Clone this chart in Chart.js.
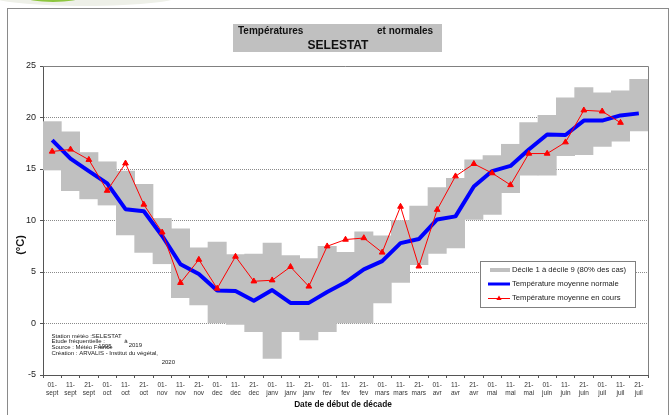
<!DOCTYPE html>
<html><head><meta charset="utf-8">
<script src="https://cdn.jsdelivr.net/npm/chart.js@4"></script>
<style>html,body{margin:0;padding:0;background:#fff}canvas{display:block}</style>
</head><body>
<canvas id="c" width="671" height="415"></canvas>
<script>
const categories = [["01-","sept"],["11-","sept"],["21-","sept"],["01-","oct"],["11-","oct"],["21-","oct"],["01-","nov"],["11-","nov"],["21-","nov"],["01-","dec"],["11-","dec"],["21-","dec"],["01-","janv"],["11-","janv"],["21-","janv"],["01-","fev"],["11-","fev"],["21-","fev"],["01-","mars"],["11-","mars"],["21-","mars"],["01-","avr"],["11-","avr"],["21-","avr"],["01-","mai"],["11-","mai"],["21-","mai"],["01-","juin"],["11-","juin"],["21-","juin"],["01-","juil"],["11-","juil"],["21-","juil"]];
const decile1 = [14.9,12.9,12.1,11.5,8.6,6.9,5.8,2.5,1.8,0.0,-0.1,-0.8,-3.4,-0.8,-1.6,-0.8,0.0,0.0,2.0,4.0,5.7,6.8,7.35,10.1,10.6,12.7,14.4,14.4,16.3,16.4,17.2,17.7,18.7];
const decile9 = [19.6,18.6,16.6,15.7,14.8,13.5,10.2,9.2,7.35,7.9,6.7,6.75,7.8,6.6,6.3,7.5,6.9,8.9,8.5,10.0,11.4,13.2,14.1,15.9,16.3,17.4,19.5,20.2,21.9,22.9,22.4,22.6,23.7];
const normale = [17.8,16.0,14.8,13.6,11.1,10.9,8.5,5.75,4.8,3.2,3.15,2.2,3.25,2.0,2.0,3.05,4.0,5.25,6.05,7.8,8.2,10.1,10.4,13.3,14.8,15.3,16.9,18.35,18.3,19.7,19.7,20.2,20.4];
const enCours = [16.7,16.9,15.9,12.9,15.55,11.55,8.85,3.95,6.2,3.4,6.5,4.1,4.2,5.5,3.6,7.5,8.15,8.3,6.9,11.35,5.55,11.05,14.3,15.5,14.6,13.45,16.5,16.5,17.6,20.7,20.6,19.5,null];
const yMin = -5, yMax = 25, yStep = 5;
const legendLabels = ["Décile 1 à décile 9 (80% des cas)","Température moyenne normale","Température moyenne en cours"];

const FONT = "'Liberation Sans', Arial, sans-serif";
Chart.defaults.font.family = FONT;

const decor = {
  id: 'decor',
  beforeDraw(chart) {
    const ctx = chart.ctx;
    ctx.save();
    ctx.fillStyle = '#fff';
    ctx.fillRect(0, 0, chart.width, chart.height);
    ctx.fillStyle = '#eef0e8';
    ctx.beginPath(); ctx.ellipse(85, -6, 100, 12, 0, 0, Math.PI * 2); ctx.fill();
    ctx.fillStyle = '#8dc63f';
    ctx.beginPath(); ctx.ellipse(53, -3, 28, 5, 0, 0, Math.PI * 2); ctx.fill();
    ctx.strokeStyle = '#8a8a8a'; ctx.lineWidth = 1;
    ctx.strokeRect(7.5, 8.5, 661, 420);
    ctx.restore();
  },
  afterDraw(chart) {
    const ctx = chart.ctx;
    const a = chart.chartArea;
    ctx.save();
    // plot border top/right
    ctx.strokeStyle = '#808080'; ctx.lineWidth = 1;
    ctx.beginPath();
    ctx.moveTo(a.left, Math.round(a.top) + 0.5);
    ctx.lineTo(Math.round(a.right) + 0.5, Math.round(a.top) + 0.5);
    ctx.lineTo(Math.round(a.right) + 0.5, a.bottom);
    ctx.stroke();
    // title box
    ctx.fillStyle = '#c0c0c0';
    ctx.fillRect(233, 24, 209, 28);
    ctx.fillStyle = '#111';
    ctx.textBaseline = 'middle';
    ctx.font = "bold 10px " + FONT;
    ctx.textAlign = 'left';
    ctx.fillText('Températures', 238, 31.5);
    ctx.fillText('et normales', 377, 31.5);
    ctx.font = "bold 12px " + FONT;
    ctx.textAlign = 'center';
    ctx.fillText('SELESTAT', 338, 46);
    // axis titles
    ctx.font = "bold 8.3px " + FONT;
    ctx.fillText('Date de début de décade', 343, 405);
    ctx.save();
    ctx.translate(21, 245);
    ctx.rotate(-Math.PI / 2);
    ctx.font = "bold 11px " + FONT;
    ctx.fillText('(°C)', 0, 0);
    ctx.restore();
    // notes
    ctx.fillStyle = '#222';
    ctx.textAlign = 'left';
    ctx.font = "6px " + FONT;
    ctx.fillText('Station météo :SELESTAT', 51.5, 336);
    ctx.fillText('Etude fréquentielle :', 51.5, 341.5);
    ctx.fillText('1995', 98.3, 346);
    ctx.fillText('à', 124.3, 341.5);
    ctx.fillText('2019', 128.7, 345.7);
    ctx.fillText('Source : Météo France', 51.5, 347.8);
    ctx.fillText('Création : ARVALIS - Institut du végétal,', 51.5, 353.5);
    ctx.fillText('2020', 161.7, 362);
    // legend
    ctx.fillStyle = '#fff';
    ctx.fillRect(480.5, 261.5, 155, 46);
    ctx.strokeStyle = '#808080';
    ctx.strokeRect(480.5, 261.5, 155, 46);
    ctx.fillStyle = '#c0c0c0';
    ctx.fillRect(490, 268, 20, 4);
    ctx.strokeStyle = '#0000ff'; ctx.lineWidth = 3;
    ctx.beginPath(); ctx.moveTo(488, 284); ctx.lineTo(510, 284); ctx.stroke();
    ctx.strokeStyle = '#ff0000'; ctx.lineWidth = 1;
    ctx.beginPath(); ctx.moveTo(488, 298.5); ctx.lineTo(510, 298.5); ctx.stroke();
    ctx.fillStyle = '#ff0000';
    ctx.beginPath(); ctx.moveTo(499, 295.5); ctx.lineTo(501.6, 300); ctx.lineTo(496.4, 300); ctx.closePath(); ctx.fill();
    ctx.fillStyle = '#222';
    ctx.font = "7.7px " + FONT;
    ctx.fillText(legendLabels[0], 512, 270);
    ctx.fillText(legendLabels[1], 512, 284);
    ctx.fillText(legendLabels[2], 512, 298);
    ctx.restore();
  }
};

new Chart(document.getElementById('c'), {
  type: 'bar',
  data: {
    labels: categories,
    datasets: [
      {
        type: 'line', label: legendLabels[2], data: enCours, order: 1,
        borderColor: '#ff0000', backgroundColor: '#ff0000', borderWidth: 1,
        pointStyle: 'triangle', pointRadius: 3.3, pointBorderWidth: 1,
        tension: 0, spanGaps: false
      },
      {
        type: 'line', label: legendLabels[1], data: normale, order: 2,
        borderColor: '#0000ff', borderWidth: 4, pointRadius: 0, tension: 0,
        borderJoinStyle: 'round'
      },
      {
        type: 'bar', label: legendLabels[0], order: 3,
        data: decile1.map((v, i) => [v, decile9[i]]),
        backgroundColor: '#c0c0c0', borderWidth: 0,
        barPercentage: 1, categoryPercentage: 1
      }
    ]
  },
  options: {
    responsive: false, animation: false, devicePixelRatio: 1,
    layout: { padding: { top: 66, right: 23, left: 0, bottom: 0 } },
    plugins: { legend: { display: false }, tooltip: { enabled: false } },
    scales: {
      x: {
        afterFit(s) { s.height = 40; },
        grid: { display: true, drawOnChartArea: false, drawTicks: true, tickLength: 3, tickColor: '#555', offset: true },
        border: { display: true, color: '#555', width: 1 },
        ticks: { autoSkip: false, maxRotation: 0, minRotation: 0, padding: 3, color: '#333', font: { size: 6.5, lineHeight: 1.3 } }
      },
      y: {
        min: yMin, max: yMax,
        afterFit(s) { s.width = 43; },
        grid: {
          color: (c) => (c.tick && (c.tick.value === yMin || c.tick.value === yMax)) ? 'rgba(0,0,0,0)' : '#8a8a8a',
          tickColor: '#555', tickLength: 3, lineWidth: 1
        },
        border: { display: true, color: '#555', width: 1, dash: [1, 1] },
        ticks: { stepSize: yStep, padding: 4, color: '#222', font: { size: 9 } }
      }
    }
  },
  plugins: [decor]
});
</script>
</body></html>
